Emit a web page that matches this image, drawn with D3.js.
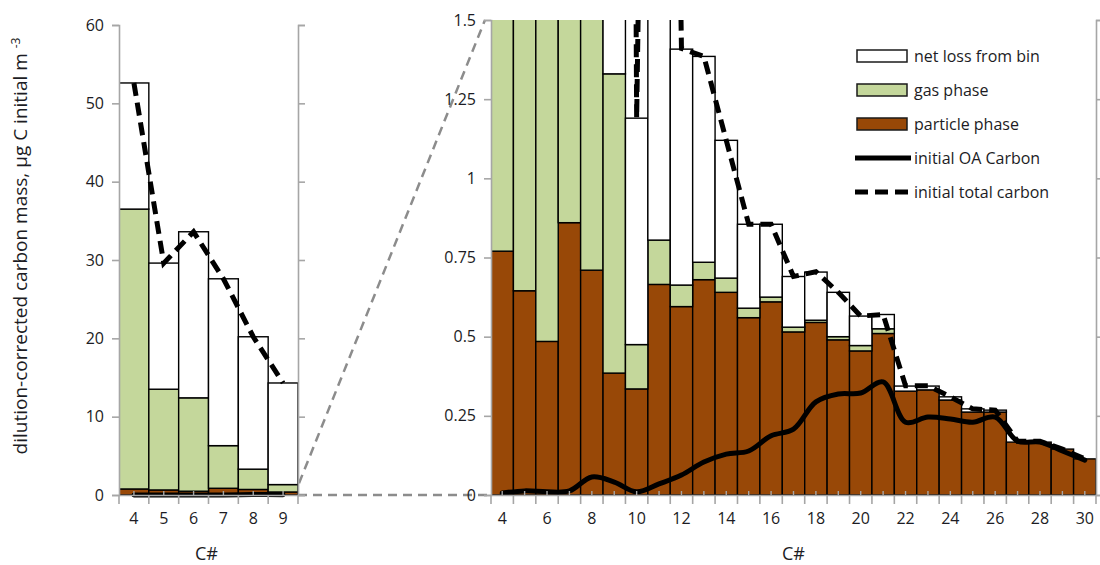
<!DOCTYPE html>
<html>
<head>
<meta charset="utf-8">
<script src="https://cdn.jsdelivr.net/npm/d3@7"></script>
<style>
  html, body { margin: 0; padding: 0; background: #fff; }
  svg { display: block; font-family: "Open Sans", "Noto Sans", sans-serif; }
</style>
</head>
<body>
<svg id="chart" width="1100" height="565"></svg>
<script>
// Carbon number of each bin
const carbonNumbers = [4,5,6,7,8,9,10,11,12,13,14,15,16,17,18,19,20,21,22,23,24,25,26,27,28,29,30];
// Stacked components (µg C per initial m³)
const particlePhase = [0.77,0.645,0.485,0.86,0.71,0.385,0.335,0.665,0.595,0.68,0.64,0.56,0.61,0.515,0.545,0.49,0.455,0.51,0.328,0.332,0.30,0.262,0.262,0.167,0.167,0.145,0.114];
const gasPhase = [35.73,12.86,11.92,5.44,2.59,0.945,0.14,0.14,0.068,0.055,0.045,0.03,0.015,0.015,0.007,0.01,0.017,0.015,0,0,0,0,0,0,0,0,0];
const netLoss = [16.1,16.1,21.2,21.3,16.9,12.97,0.715,5.2,0.745,0.65,0.435,0.265,0.23,0.16,0.152,0.14,0.093,0.045,0.016,0.012,0.01,0.01,0.006,0,0,0,0];
// Initial carbon lines
const initialOA = [0.006,0.013,0.01,0.013,0.057,0.041,0.01,0.035,0.063,0.104,0.129,0.139,0.187,0.208,0.294,0.319,0.322,0.357,0.23,0.246,0.24,0.23,0.246,0.17,0.167,0.139,0.11];
const initialTotal = [52.6,29.6,33.6,27.6,20.2,14.3,1.19,6.0,1.41,1.385,1.12,0.855,0.855,0.69,0.705,0.64,0.565,0.57,0.345,0.345,0.31,0.272,0.268,0.17,0.17,0.145,0.114];
// Axis ticks
const leftYTicks = [0,10,20,30,40,50,60];
const rightYTicks = [0,0.25,0.5,0.75,1,1.25,1.5];
const rightXLabels = [4,6,8,10,12,14,16,18,20,22,24,26,28,30];
const leftCats = [4,5,6,7,8,9];
// Legend entries
const legendItems = [
  {label: "net loss from bin", type: "box", key: "loss"},
  {label: "gas phase", type: "box", key: "gas"},
  {label: "particle phase", type: "box", key: "particle"},
  {label: "initial OA Carbon", type: "solid"},
  {label: "initial total carbon", type: "dashed"}
];

const colors = {loss: "#ffffff", gas: "#c4d79b", particle: "#984807"};
const axisGray = "#a6a6a6";
const textColor = "#1c1c24";
const keys = ["particle", "gas", "loss"];

const rows = carbonNumbers.map((c, i) => ({
  c, particle: particlePhase[i], gas: gasPhase[i], loss: netLoss[i],
  oa: initialOA[i], total: initialTotal[i]
}));
const stacked = d3.stack().keys(keys)(rows);

const svg = d3.select("#chart");
const defs = svg.append("defs");

// Panel geometry
const L = {x0: 119, x1: 298, top: 25, bottom: 495};
const R = {x0: 491, x1: 1096, top: 20, bottom: 495};

const xL = d3.scaleBand().domain(leftCats).range([L.x0, L.x1]).padding(0);
const yL = d3.scaleLinear().domain([0, 60]).range([L.bottom, L.top]);
const xR = d3.scaleBand().domain(carbonNumbers).range([R.x0, R.x1]).padding(0);
const yR = d3.scaleLinear().domain([0, 1.5]).range([R.bottom, R.top]);

function clip(id, P) {
  defs.append("clipPath").attr("id", id).append("rect")
    .attr("x", P.x0).attr("y", P.top).attr("width", P.x1 - P.x0).attr("height", P.bottom - P.top + 12);
}
clip("clipL", L);
clip("clipR", R);

// Zoom connectors between the panels
const connector = svg.append("g").attr("stroke", "#8c8c8c").attr("stroke-width", 2.5)
  .attr("stroke-dasharray", "9,6").attr("fill", "none");
connector.append("line").attr("x1", L.x1).attr("y1", yL(0)).attr("x2", R.x0 - 4).attr("y2", yR(0));
connector.append("line").attr("x1", L.x1 + 1).attr("y1", yL(1.5)).attr("x2", R.x0 - 6).attr("y2", yR(1.5));

function panel(P, x, y, cats, yTicks, xLabels, clipId, fmt) {
  const g = svg.append("g");
  const sel = new Set(cats);
  const plot = g.append("g").attr("clip-path", `url(#${clipId})`);

  // stacked bars
  stacked.forEach(layer => {
    plot.append("g").selectAll("rect")
      .data(layer.filter(d => sel.has(d.data.c)))
      .join("rect")
      .attr("x", d => x(d.data.c))
      .attr("width", x.bandwidth())
      .attr("y", d => y(d[1]))
      .attr("height", d => Math.max(0, y(d[0]) - y(d[1])))
      .attr("fill", colors[layer.key])
      .attr("stroke", "#000")
      .attr("stroke-width", 1.4);
  });

  const data = rows.filter(r => sel.has(r.c));
  const cx = d => x(d.c) + x.bandwidth() / 2;

  // initial OA carbon
  plot.append("path")
    .datum(data)
    .attr("fill", "none").attr("stroke", "#000").attr("stroke-width", 5)
    .attr("stroke-linejoin", "round").attr("stroke-linecap", "round")
    .attr("d", d3.line().x(cx).y(d => y(d.oa)).curve(d3.curveCatmullRom.alpha(0.5)));

  // initial total carbon
  plot.append("path")
    .datum(data)
    .attr("fill", "none").attr("stroke", "#000").attr("stroke-width", 5)
    .attr("stroke-dasharray", "13,7")
    .attr("d", d3.line().x(cx).y(d => y(d.total)));

  // left value axis
  const ax = g.append("g").attr("transform", `translate(${P.x0},0)`)
    .call(d3.axisLeft(y).tickValues(yTicks).tickSize(7).tickPadding(8).tickFormat(fmt));
  // right value axis (no labels)
  const ax2 = g.append("g").attr("transform", `translate(${P.x1},0)`)
    .call(d3.axisRight(y).tickValues(yTicks).tickSize(7).tickFormat(""));
  // category axis
  const ax3 = g.append("g").attr("transform", `translate(0,${P.bottom})`)
    .call(d3.axisBottom(x).tickValues(xLabels).tickSize(0).tickPadding(18));
  [ax, ax2, ax3].forEach(a => {
    a.select(".domain").attr("stroke", axisGray).attr("stroke-width", 1.6);
    a.selectAll(".tick line").attr("stroke", axisGray).attr("stroke-width", 1.6);
    a.selectAll("text").attr("fill", textColor).attr("font-size", 16)
      .attr("font-family", "'Open Sans', 'Noto Sans', sans-serif");
  });

  // major ticks at bin edges, minor ticks at bin centres
  const edges = cats.map(c => x(c)).concat([x(cats[cats.length - 1]) + x.bandwidth()]);
  g.append("g").selectAll("line").data(edges).join("line")
    .attr("x1", d => d).attr("x2", d => d).attr("y1", P.bottom).attr("y2", P.bottom + 9)
    .attr("stroke", axisGray).attr("stroke-width", 1.6);
  g.append("g").selectAll("line").data(cats).join("line")
    .attr("x1", c => x(c) + x.bandwidth() / 2).attr("x2", c => x(c) + x.bandwidth() / 2)
    .attr("y1", P.bottom).attr("y2", P.bottom - 4)
    .attr("stroke", axisGray).attr("stroke-width", 1.4);

  // axis title
  g.append("text").attr("x", (P.x0 + P.x1) / 2 + (P === L ? -2 : 0)).attr("y", 560)
    .attr("text-anchor", "middle").attr("fill", textColor).attr("font-size", 18)
    .text("C#");
}

panel(L, xL, yL, leftCats, leftYTicks, leftCats, "clipL", d3.format("d"));
panel(R, xR, yR, carbonNumbers, rightYTicks, rightXLabels, "clipR", d => String(d));

// y-axis title
const yt = svg.append("text")
  .attr("transform", "translate(27,246) rotate(-90)")
  .attr("text-anchor", "middle").attr("fill", textColor).attr("font-size", 19);
yt.append("tspan").text("dilution-corrected carbon mass, µg C initial m ");
yt.append("tspan").attr("font-size", 12).attr("dy", -7).text("-3");

// legend
const lg = svg.append("g").attr("transform", "translate(857,56)");
legendItems.forEach((it, i) => {
  const row = lg.append("g").attr("transform", `translate(0,${i * 34})`);
  if (it.type === "box") {
    row.append("rect").attr("x", 0).attr("y", -6).attr("width", 50).attr("height", 12)
      .attr("fill", colors[it.key]).attr("stroke", "#1a1a1a").attr("stroke-width", 1.5);
  } else {
    row.append("line").attr("x1", -2).attr("x2", 54).attr("y1", 0).attr("y2", 0)
      .attr("stroke", "#000").attr("stroke-width", 5)
      .attr("stroke-dasharray", it.type === "dashed" ? "13,7" : null);
  }
  row.append("text").attr("x", 57).attr("y", 0).attr("dy", "0.35em")
    .attr("fill", textColor).attr("font-size", 16).text(it.label);
});
</script>
</body>
</html>
